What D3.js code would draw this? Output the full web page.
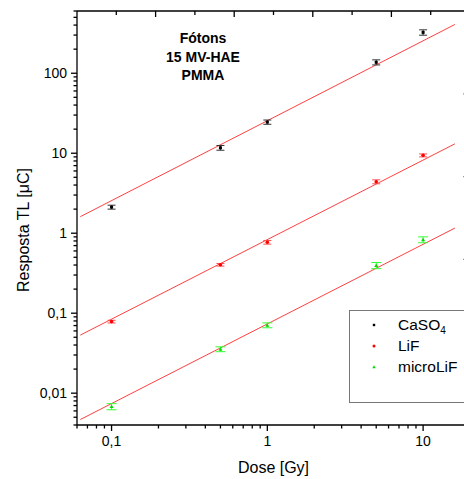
<!DOCTYPE html>
<html>
<head>
<meta charset="utf-8">
<script src="https://cdn.jsdelivr.net/npm/d3@7"></script>
<style>
body { margin: 0; background: #fff; }
text { font-family: "Liberation Sans", Arial, sans-serif; }
</style>
</head>
<body>
<div class="content"></div>
<script>
var size = {width: 464, height: 479};
var padding = {left: 77, right: -6, top: 11, bottom: 54};

// Dose values (Gy) and responses (µC)
var doses = [0.1, 0.5, 1, 5, 10];
var caso4 = [2.12, 11.7, 24.5, 137, 324];
var caso4Err = [0.12, 0.8, 1.5, 10, 25];
var lif = [0.0785, 0.403, 0.77, 4.4, 9.4];
var lifErr = [0.003, 0.015, 0.04, 0.25, 0.4];
var microlif = [0.0068, 0.0355, 0.0707, 0.395, 0.83];
var microlifErr = [0.0006, 0.0025, 0.005, 0.035, 0.07];

// fitted lines, end points
var fitX = [0.063, 16];
var caso4Fit = [1.61, 407];
var lifFit = [0.0532, 13.1];
var microlifFit = [0.00468, 1.16];

var xTickLabels = [[0.1, "0,1"], [1, "1"], [10, "10"]];
var yTickLabels = [[0.01, "0,01"], [0.1, "0,1"], [1, "1"], [10, "10"], [100, "100"]];
var annotation = ["Fótons", "15 MV-HAE", "PMMA"];

var series = [
    {name: "CaSO", sub: "4", y: caso4, err: caso4Err, fit: caso4Fit, color: "#000", errColor: "#333", shape: "square", cap: 4},
    {name: "LiF", sub: "", y: lif, err: lifErr, fit: lifFit, color: "#ff0000", errColor: "#ff5050", shape: "circle", cap: 4},
    {name: "microLiF", sub: "", y: microlif, err: microlifErr, fit: microlifFit, color: "#00dd00", errColor: "#33ff33", shape: "triangle", cap: 5}
];

var chart = d3.select('.content')
    .append('svg:svg')
    .attr('width', size.width)
    .attr('height', size.height);

var x0 = padding.left, x1 = size.width - padding.right;
var y0 = size.height - padding.bottom, y1 = padding.top;

var xScale = d3.scaleLog().domain([0.06, 20]).range([x0, x1]);
var yScale = d3.scaleLog().domain([0.004, 600]).range([y0, y1]);

// minor/major log ticks
function logTicks(scale) {
    var d = scale.domain(), out = [];
    for (var e = -4; e <= 4; e++) {
        for (var m = 1; m < 10; m++) {
            var v = m * Math.pow(10, e);
            if (v >= d[0] * 0.999 && v <= d[1] * 1.001) out.push({v: v, major: m === 1});
        }
    }
    return out;
}

var axes = chart.append('g').attr('stroke', '#000').attr('stroke-width', 1.3);

// bottom axis
axes.append('line').attr('x1', x0).attr('x2', x1).attr('y1', y0).attr('y2', y0);
axes.selectAll('line.xt').data(logTicks(xScale)).enter().append('line')
    .attr('x1', function(d) { return xScale(d.v); })
    .attr('x2', function(d) { return xScale(d.v); })
    .attr('y1', y0).attr('y2', function(d) { return y0 + (d.major ? 6 : 3.5); });

// left axis
axes.append('line').attr('x1', x0).attr('x2', x0).attr('y1', y0).attr('y2', y1);
axes.selectAll('line.yt').data(logTicks(yScale)).enter().append('line')
    .attr('y1', function(d) { return yScale(d.v); })
    .attr('y2', function(d) { return yScale(d.v); })
    .attr('x1', x0).attr('x2', function(d) { return x0 - (d.major ? 6 : 3.5); });

// top axis (linear, inward ticks)
var topScale = d3.scaleLinear().domain([0, 5]).range([x0, x1]);
axes.append('line').attr('x1', x0).attr('x2', x1).attr('y1', y1).attr('y2', y1);
axes.selectAll('line.tt').data(d3.range(1, 10)).enter().append('line')
    .attr('x1', function(d) { return topScale(d / 2); })
    .attr('x2', function(d) { return topScale(d / 2); })
    .attr('y1', y1).attr('y2', function(d) { return y1 + (d % 2 === 0 ? 6 : 4); });

// right axis (linear, inward ticks)
var rightScale = d3.scaleLinear().domain([0, 5]).range([y1, y0]);
axes.append('line').attr('x1', x1).attr('x2', x1).attr('y1', y0).attr('y2', y1);
axes.selectAll('line.rt').data(d3.range(1, 5)).enter().append('line')
    .attr('stroke', '#999')
    .attr('y1', function(d) { return rightScale(d); })
    .attr('y2', function(d) { return rightScale(d); })
    .attr('x1', x1).attr('x2', x1 - 7);

// tick labels
chart.selectAll('text.xl').data(xTickLabels).enter().append('text')
    .attr('x', function(d) { return xScale(d[0]); })
    .attr('y', y0 + 21)
    .attr('text-anchor', 'middle')
    .style('font-size', '14px')
    .text(function(d) { return d[1]; });
chart.selectAll('text.yl').data(yTickLabels).enter().append('text')
    .attr('x', x0 - 10)
    .attr('y', function(d) { return yScale(d[0]) + 5; })
    .attr('text-anchor', 'end')
    .style('font-size', '14px')
    .text(function(d) { return d[1]; });

// axis titles
chart.append('text')
    .attr('x', (x0 + x1) / 2).attr('y', 473)
    .attr('text-anchor', 'middle')
    .style('font-size', '16px')
    .text('Dose [Gy]');
chart.append('text')
    .attr('transform', 'translate(29,230) rotate(-90)')
    .attr('text-anchor', 'middle')
    .style('font-size', '16px')
    .text('Resposta TL [μC]');

// annotation
chart.selectAll('text.ann').data(annotation).enter().append('text')
    .attr('x', 203)
    .attr('y', function(d, i) { return 43 + i * 18.5; })
    .attr('text-anchor', 'middle')
    .style('font-size', '14px')
    .style('font-weight', 'bold')
    .text(function(d) { return d; });

var plot = chart.append('g');

// fit lines
series.forEach(function(s) {
    plot.append('line')
        .attr('x1', xScale(fitX[0])).attr('y1', yScale(s.fit[0]))
        .attr('x2', xScale(fitX[1])).attr('y2', yScale(s.fit[1]))
        .attr('stroke', '#ff4040').attr('stroke-width', 1);
});

function drawMarker(g, shape, cx, cy, color, r) {
    if (shape === 'square') {
        g.append('rect').attr('x', cx - r).attr('y', cy - r).attr('width', 2 * r).attr('height', 2 * r).attr('fill', color);
    } else if (shape === 'circle') {
        g.append('circle').attr('cx', cx).attr('cy', cy).attr('r', r + 0.3).attr('fill', color);
    } else {
        g.append('path').attr('d', 'M' + cx + ',' + (cy - r - 0.5) + 'L' + (cx + r + 0.5) + ',' + (cy + r) + 'L' + (cx - r - 0.5) + ',' + (cy + r) + 'Z').attr('fill', color);
    }
}

// error bars and points
series.forEach(function(s) {
    var g = plot.append('g');
    doses.forEach(function(dx, i) {
        var cx = xScale(dx);
        var top = yScale(s.y[i] + s.err[i]), bot = yScale(s.y[i] - s.err[i]);
        g.append('line').attr('x1', cx).attr('x2', cx).attr('y1', top).attr('y2', bot)
            .attr('stroke', s.errColor).attr('stroke-width', 1);
        [top, bot].forEach(function(yy) {
            g.append('line').attr('x1', cx - s.cap).attr('x2', cx + s.cap).attr('y1', yy).attr('y2', yy)
                .attr('stroke', s.errColor).attr('stroke-width', 1);
        });
        drawMarker(g, s.shape, cx, yScale(s.y[i]), s.color, 1.5);
    });
});

// legend
var legend = chart.append('g');
legend.append('rect')
    .attr('x', 349.5).attr('y', 310.5).attr('width', 130).attr('height', 92)
    .attr('fill', '#fff').attr('stroke', '#777').attr('stroke-width', 1);
series.forEach(function(s, i) {
    var ly = 325 + i * 21;
    drawMarker(legend, s.shape, 374, ly, s.color, 1.2);
    var t = legend.append('text')
        .attr('x', 398).attr('y', ly + 5)
        .style('font-size', '15.5px')
        .text(s.name);
    if (s.sub) {
        t.append('tspan').attr('dy', 4).style('font-size', '10px').text(s.sub);
    }
});
</script>
</body>
</html>
